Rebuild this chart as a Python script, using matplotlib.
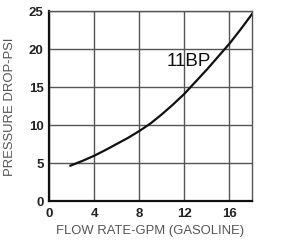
import matplotlib.pyplot as plt

# values
flow = [1.9, 3, 4, 5, 6, 7, 8, 9, 10, 11, 12, 13, 14, 15, 16, 17, 18]
pressure = [4.65, 5.3, 5.95, 6.7, 7.5, 8.3, 9.2, 10.2, 11.4, 12.7, 14.1, 15.7, 17.3, 19.0, 20.7, 22.6, 24.6]
xticks = [0, 4, 8, 12, 16]
yticks = [0, 5, 10, 15, 20, 25]

sans = ['Liberation Sans', 'DejaVu Sans']

fig = plt.figure(figsize=(2.9, 2.53), dpi=100)
ax = fig.add_axes([0.169, 0.2016, 0.70, 0.751])

ax.plot(flow, pressure, color='#111111', lw=1.6, zorder=3)

ax.set_xlim(0, 18)
ax.set_ylim(0, 25)
ax.set_xticks(xticks)
ax.set_yticks(yticks)
ax.grid(True, color='#555555', lw=1.0)
ax.tick_params(length=0, pad=4)
for lab in ax.get_xticklabels() + ax.get_yticklabels():
    lab.set_family(sans)
    lab.set_fontweight('bold')
    lab.set_fontsize(9.5)
    lab.set_color('#222222')

for s in ['top', 'right']:
    ax.spines[s].set_color('#555555')
    ax.spines[s].set_linewidth(1.0)
for s in ['left', 'bottom']:
    ax.spines[s].set_color('#111111')
    ax.spines[s].set_linewidth(1.6)

ax.text(10.4, 18.5, '11BP', fontsize=13.5, va='center', ha='left', color='#111111',
        family=sans)

ax.set_xlabel('FLOW RATE-GPM (GASOLINE)', fontsize=9.4, color='#555555',
              family=sans, labelpad=4)
ax.set_ylabel('PRESSURE DROP-PSI', fontsize=9.4, color='#555555',
              family=sans, labelpad=9)

fig.savefig('out.png', dpi=100)
